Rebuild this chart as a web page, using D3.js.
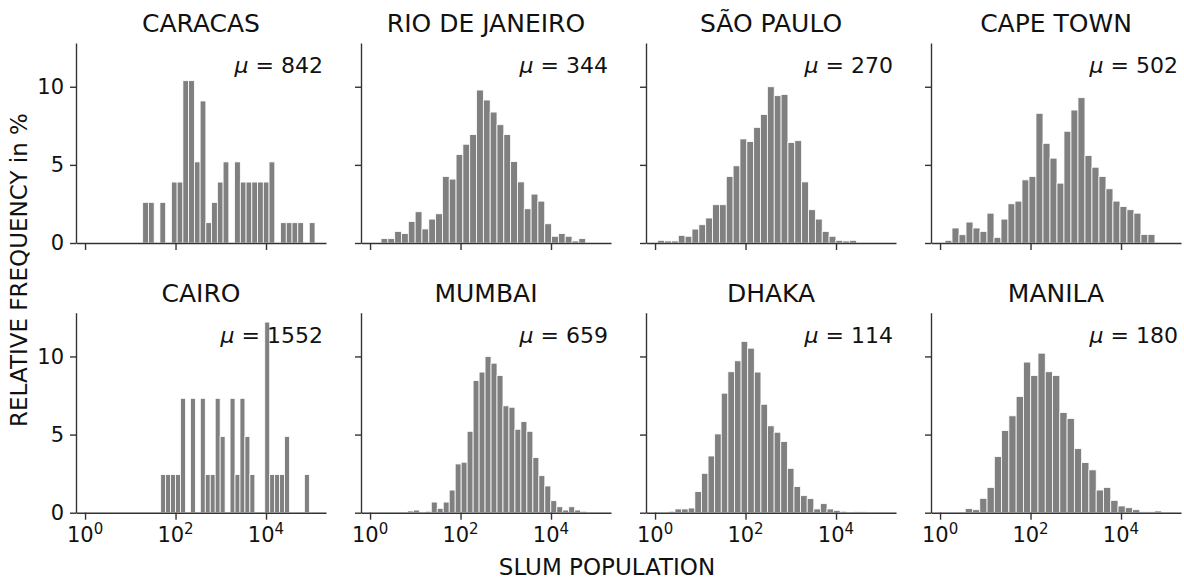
<!DOCTYPE html>
<html>
<head>
<meta charset="utf-8">
<script src="https://cdn.jsdelivr.net/npm/d3@7"></script>
<style>
  body { margin: 0; background: #fff; }
  svg { display: block; }
  text { font-family: "DejaVu Sans", Verdana, sans-serif; fill: #111; }
</style>
</head>
<body>
<svg id="chart" width="1184" height="581"></svg>
<script>
// City panels, in reading order (two rows of four)
const CITIES = ["CARACAS", "RIO DE JANEIRO", "SÃO PAULO", "CAPE TOWN",
                "CAIRO", "MUMBAI", "DHAKA", "MANILA"];
// Mean slum population per city
const MEANS = [842, 344, 270, 502, 1552, 659, 114, 180];
// log10 of the first and last histogram bin edge (30 log-spaced bins each)
const BIN_LO = [1.274, 0.243, 0.059, 0.110, 1.672, 0.825, 0.295, 0.074];
const BIN_HI = [5.083, 4.766, 4.604, 4.750, 4.958, 4.788, 4.678, 4.899];

// Relative frequency (%) per bin
const CARACAS = [2.60, 2.60, 0, 2.60, 0, 3.90, 3.90, 10.39, 10.39, 5.19,
                 9.09, 1.30, 2.60, 3.90, 5.19, 0, 5.19, 3.90, 3.90, 3.90,
                 3.90, 3.90, 5.19, 0, 1.30, 1.30, 1.30, 1.30, 0, 1.30];
const RIO = [0.28, 0.28, 0.74, 0.60, 1.38, 2.00, 0.90, 1.53, 1.87, 4.26,
             4.09, 5.66, 6.32, 6.94, 9.79, 9.15, 8.38, 7.57, 6.94, 5.21,
             3.91, 2.19, 3.13, 2.68, 1.23, 0.43, 0.60, 0.43, 0.13, 0.28];
const SAO_PAULO = [0.17, 0.13, 0.13, 0.49, 0.43, 0.89, 1.17, 1.60, 2.45, 2.45,
                   4.26, 4.94, 6.66, 6.49, 7.40, 8.23, 10.00, 9.43, 9.51, 6.43,
                   6.55, 3.91, 2.13, 1.53, 0.74, 0.43, 0.17, 0.13, 0.17, 0.04];
const CAPE_TOWN = [0.17, 0.96, 0.53, 1.34, 0.96, 0.74, 1.91, 0.36, 1.53, 2.51,
                   2.68, 4.04, 4.26, 8.30, 6.38, 5.43, 3.83, 7.15, 8.51, 9.30,
                   5.60, 4.85, 4.26, 3.47, 2.68, 2.34, 2.13, 1.91, 0.55, 0.55];
const CAIRO = [2.44, 2.44, 2.44, 2.44, 7.32, 0, 7.32, 0, 7.32, 2.44,
               2.44, 7.32, 4.88, 0, 7.32, 2.44, 7.32, 4.88, 2.44, 0,
               0, 12.20, 2.44, 2.44, 2.44, 4.88, 0, 0, 0, 2.44];
const MUMBAI = [0.11, 0.17, 0, 0.09, 0.68, 0.28, 0.68, 1.45, 3.12, 3.23,
                5.21, 8.46, 9.00, 10.00, 9.57, 8.78, 6.84, 6.75, 5.34, 5.83,
                5.21, 3.53, 2.37, 1.71, 0.77, 0.38, 0.17, 0.38, 0.17, 0.09];
const DHAKA = [0.09, 0.24, 0.24, 0.30, 1.35, 2.52, 3.63, 5.04, 7.65, 9.02,
               9.72, 10.96, 10.53, 9.00, 6.94, 5.56, 5.15, 4.55, 2.84, 1.67,
               1.09, 0.90, 0.24, 0.58, 0.24, 0.15, 0.09, 0.04, 0.06, 0.06];
const MANILA = [0.04, 0, 0.04, 0.26, 0.19, 0.92, 1.62, 3.59, 5.26, 6.20,
                7.44, 9.64, 8.78, 10.21, 9.02, 8.78, 6.41, 6.03, 4.10, 3.21,
                2.74, 1.45, 1.62, 0.79, 0.43, 0.32, 0.19, 0.06, 0.06, 0.11];
const FREQS = [CARACAS, RIO, SAO_PAULO, CAPE_TOWN, CAIRO, MUMBAI, DHAKA, MANILA];

// Axis ticks and ranges
const X_TICKS = [1, 100, 10000];
const Y_TICKS = [0, 5, 10];
const X_DOMAIN = [Math.pow(10, -0.2), Math.pow(10, 5.326)];
const Y_MAX = 12.8;

// Layout
const PANEL_W = 250, PANEL_H = 200;
const LEFT0 = 76, COL_STEP = 285;
const ROW_TOPS = [43, 312.7];
const BAR_COLOR = "#808080";
const SPINE_COLOR = "#333";

const svg = d3.select("#chart");

const x = d3.scaleLog().domain(X_DOMAIN).range([0, PANEL_W]);
const y = d3.scaleLinear().domain([0, Y_MAX]).range([PANEL_H, 0]);

CITIES.forEach((city, k) => {
  const col = k % 4, row = Math.floor(k / 4);
  const g = svg.append("g")
    .attr("transform", `translate(${LEFT0 + col * COL_STEP},${ROW_TOPS[row]})`);

  const lo = BIN_LO[k], hi = BIN_HI[k];
  const step = (hi - lo) / FREQS[k].length;
  const bins = FREQS[k].map((v, i) => ({
    x0: Math.pow(10, lo + i * step),
    x1: Math.pow(10, lo + (i + 1) * step),
    v
  })).filter(d => d.v > 0);

  g.selectAll("rect.bar").data(bins).enter().append("rect")
    .attr("class", "bar")
    .attr("x", d => x(d.x0))
    .attr("width", d => x(d.x1) - x(d.x0))
    .attr("y", d => y(d.v))
    .attr("height", d => y(0) - y(d.v))
    .attr("fill", BAR_COLOR)
    .attr("stroke", "#fff")
    .attr("stroke-width", 0.8);

  // x axis
  const xa = g.append("g")
    .attr("transform", `translate(0,${PANEL_H})`)
    .call(d3.axisBottom(x).tickValues(X_TICKS).tickSize(7).tickSizeOuter(0).tickFormat(""));
  // y axis
  const ya = g.append("g")
    .call(d3.axisLeft(y).tickValues(Y_TICKS).tickSize(6).tickSizeOuter(0).tickPadding(6)
      .tickFormat(col === 0 ? d3.format("d") : () => ""));
  [xa, ya].forEach(a => {
    a.select(".domain").attr("stroke", SPINE_COLOR).attr("stroke-width", 1.4);
    a.selectAll(".tick line").attr("stroke", SPINE_COLOR).attr("stroke-width", 1.4);
  });
  ya.selectAll(".tick text").style("font-size", "21px").attr("fill", "#111");

  // log tick labels on the bottom row
  if (row === 1) {
    X_TICKS.forEach(t => {
      const txt = g.append("text")
        .attr("x", x(t))
        .attr("y", PANEL_H + 29)
        .attr("text-anchor", "middle")
        .style("font-size", "21px");
      txt.append("tspan").text("10");
      txt.append("tspan")
        .attr("dy", "-0.48em")
        .style("font-size", "15px")
        .text(Math.round(Math.log10(t)));
    });
  }

  // panel title
  g.append("text")
    .attr("x", PANEL_W / 2)
    .attr("y", -11)
    .attr("text-anchor", "middle")
    .style("font-size", "25px")
    .text(city);

  // mean annotation
  const mu = g.append("text")
    .attr("x", PANEL_W - 3)
    .attr("y", 30.3)
    .attr("text-anchor", "end")
    .style("font-size", "22px");
  mu.append("tspan").style("font-style", "italic").text("μ");
  mu.append("tspan").text(" = " + MEANS[k]);
});

// shared axis labels
svg.append("text")
  .attr("x", 607)
  .attr("y", 575)
  .attr("text-anchor", "middle")
  .style("font-size", "23px")
  .text("SLUM POPULATION");

svg.append("text")
  .attr("transform", "translate(27,270) rotate(-90)")
  .attr("text-anchor", "middle")
  .style("font-size", "23px")
  .text("RELATIVE FREQUENCY in %");
</script>
</body>
</html>
